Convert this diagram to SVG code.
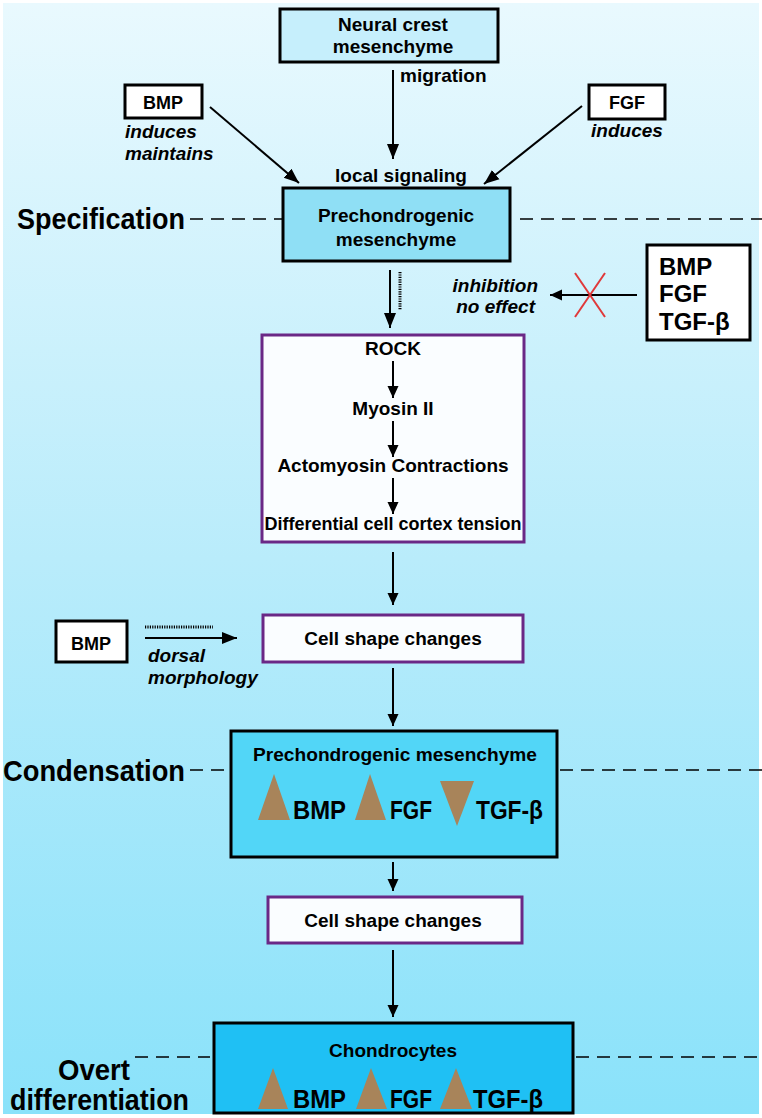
<svg xmlns="http://www.w3.org/2000/svg" width="762" height="1118" viewBox="0 0 762 1118">
<defs>
<linearGradient id="bg" x1="0" y1="0" x2="0" y2="1">
<stop offset="0" stop-color="#e9f9fe"/>
<stop offset="0.5" stop-color="#b9ecfb"/>
<stop offset="1" stop-color="#8ae2fa"/>
</linearGradient>
<marker id="ah" markerUnits="userSpaceOnUse" markerWidth="16" markerHeight="14" refX="15" refY="7" orient="auto">
<path d="M0,1 L15,7 L0,13 z" fill="#000"/>
</marker>
<marker id="ahs" markerUnits="userSpaceOnUse" markerWidth="13" markerHeight="12" refX="12" refY="6" orient="auto">
<path d="M0,0.5 L12,6 L0,11.5 z" fill="#000"/>
</marker>
</defs>
<style>
text{font-family:"Liberation Sans",Arial,sans-serif;font-weight:bold;fill:#000}
.t{font-size:19px;text-anchor:middle}
.it{font-size:19px;font-style:italic}
.big{font-size:24px}
.cond{font-size:30px}
.sub{font-size:26px}
.box{stroke:#000;stroke-width:3}
.pbox{stroke:#6a2886;stroke-width:3;fill:#fafdff}
.wbox{fill:#fff;stroke:#000;stroke-width:3}
.dash{stroke:#000;stroke-width:1.6;stroke-dasharray:13 8;fill:none}
.ln{stroke:#000;stroke-width:2;fill:none}
.hatch{stroke:#000;stroke-width:3;stroke-dasharray:1.2 1.2;fill:none}
.tri{fill:#a8845a}
</style>
<rect x="0" y="0" width="762" height="1118" fill="#fff"/>
<rect x="3" y="3" width="756" height="1111" fill="url(#bg)"/>

<g id="labels">
<text class="cond" x="17" y="229" textLength="168" lengthAdjust="spacingAndGlyphs">Specification</text>
<text class="cond" x="3" y="781" textLength="182" lengthAdjust="spacingAndGlyphs">Condensation</text>
<text class="cond" x="58" y="1080" textLength="72" lengthAdjust="spacingAndGlyphs">Overt</text>
<text class="cond" x="10" y="1110" textLength="179" lengthAdjust="spacingAndGlyphs">differentiation</text>
</g>

<g id="connectors">
<line class="dash" x1="190" y1="219" x2="283" y2="219"/>
<line class="dash" x1="520" y1="219" x2="762" y2="219"/>
<line class="dash" x1="190" y1="770" x2="231" y2="770"/>
<line class="dash" x1="560" y1="770" x2="762" y2="770"/>
<line class="dash" x1="135" y1="1057" x2="210" y2="1057"/>
<line class="dash" x1="576" y1="1057" x2="762" y2="1057"/>
<line class="ln" x1="393" y1="70" x2="393" y2="159" marker-end="url(#ah)"/>
<line class="ln" x1="210" y1="107" x2="299" y2="183" marker-end="url(#ah)"/>
<line class="ln" x1="582" y1="106" x2="484" y2="184" marker-end="url(#ah)"/>
<line class="ln" x1="390" y1="270" x2="390" y2="328" marker-end="url(#ah)"/>
<line class="hatch" x1="400" y1="272" x2="400" y2="310"/>
<line class="ln" x1="637" y1="295" x2="550" y2="295" marker-end="url(#ahs)"/>
<line x1="575" y1="273" x2="605" y2="317" stroke="#e0393a" stroke-width="2"/>
<line x1="605" y1="273" x2="575" y2="317" stroke="#e0393a" stroke-width="2"/>
<line class="ln" x1="393" y1="552" x2="393" y2="605" marker-end="url(#ahs)"/>
<line class="ln" x1="145" y1="638" x2="237" y2="638" marker-end="url(#ah)"/>
<line class="hatch" x1="145" y1="627" x2="213" y2="627"/>
<line class="ln" x1="393" y1="668" x2="393" y2="726" marker-end="url(#ahs)"/>
<line class="ln" x1="393" y1="862" x2="393" y2="891" marker-end="url(#ahs)"/>
<line class="ln" x1="393" y1="950" x2="393" y2="1017" marker-end="url(#ahs)"/>
</g>

<g id="neural-crest">
<rect class="box" x="280" y="9" width="218" height="53" fill="#c6effc" stroke-width="2.5"/>
<text class="t" x="393" y="31">Neural crest</text>
<text class="t" x="393" y="53">mesenchyme</text>
</g>
<text id="migration" class="t" x="400" y="82" style="text-anchor:start">migration</text>
<text id="local-signaling" class="t" x="401" y="182">local signaling</text>

<g id="bmp-top">
<rect class="wbox" x="125" y="85" width="77" height="33"/>
<text class="t" x="163" y="109" style="font-size:18px">BMP</text>
<text class="it" x="125" y="138">induces</text>
<text class="it" x="125" y="160">maintains</text>
</g>

<g id="fgf-top">
<rect class="wbox" x="589" y="85" width="76" height="34"/>
<text class="t" x="627" y="109" style="font-size:18px">FGF</text>
<text class="it" x="627" y="137" style="text-anchor:middle">induces</text>
</g>

<g id="spec-box">
<rect class="box" x="283" y="188" width="227" height="73" fill="#8fdff5"/>
<text class="t" x="396" y="222">Prechondrogenic</text>
<text class="t" x="396" y="246">mesenchyme</text>
</g>

<g id="inhibition">
<text class="it" x="538" y="292" style="text-anchor:end">inhibition</text>
<text class="it" x="535" y="313" style="text-anchor:end">no effect</text>
</g>

<g id="factors-right">
<rect class="wbox" x="647" y="245" width="103" height="95"/>
<text class="big" x="659" y="275">BMP</text>
<text class="big" x="659" y="302">FGF</text>
<text class="big" x="659" y="330">TGF-β</text>
</g>

<g id="rock-box">
<rect class="pbox" x="262" y="335" width="262" height="207"/>
<text class="t" x="393" y="355">ROCK</text>
<line class="ln" x1="393" y1="361" x2="393" y2="398" marker-end="url(#ahs)"/>
<text class="t" x="393" y="415">Myosin II</text>
<line class="ln" x1="393" y1="421" x2="393" y2="457" marker-end="url(#ahs)"/>
<text class="t" x="393" y="472">Actomyosin Contractions</text>
<line class="ln" x1="393" y1="478" x2="393" y2="514" marker-end="url(#ahs)"/>
<text class="t" x="393" y="530" style="font-size:18px">Differential cell cortex tension</text>
</g>

<g id="cell-shape-1">
<rect class="pbox" x="263" y="615" width="260" height="47" fill="#fff"/>
<text class="t" x="393" y="645">Cell shape changes</text>
</g>

<g id="bmp-left">
<rect class="wbox" x="56" y="621" width="71" height="41"/>
<text class="t" x="91" y="650" style="font-size:18px">BMP</text>
<text class="it" x="148" y="662">dorsal</text>
<text class="it" x="148" y="684">morphology</text>
</g>

<g id="condensation-box">
<rect class="box" x="231" y="731" width="326" height="126" fill="#52d6f7"/>
<text x="395" y="761" style="font-size:19px;text-anchor:middle" textLength="284" lengthAdjust="spacingAndGlyphs">Prechondrogenic mesenchyme</text>
<polygon class="tri" points="258,820 274,774 290,820"/>
<polygon class="tri" points="355,820 370,774 386,820"/>
<polygon class="tri" points="440,781 474,781 457,826"/>
<text class="sub" x="293" y="819" textLength="53" lengthAdjust="spacingAndGlyphs">BMP</text>
<text class="sub" x="390" y="819" textLength="42" lengthAdjust="spacingAndGlyphs">FGF</text>
<text class="sub" x="476" y="819" textLength="67" lengthAdjust="spacingAndGlyphs">TGF-β</text>
</g>

<g id="cell-shape-2">
<rect class="pbox" x="268" y="897" width="254" height="46" fill="#fff"/>
<text class="t" x="393" y="927">Cell shape changes</text>
</g>

<g id="chondrocytes-box">
<rect class="box" x="214" y="1023" width="359" height="90" fill="#1fc0f4"/>
<text x="393" y="1057" style="font-size:19px;text-anchor:middle" textLength="128" lengthAdjust="spacingAndGlyphs">Chondrocytes</text>
<polygon class="tri" points="258,1109 273,1068 288,1109"/>
<polygon class="tri" points="356,1109 371,1068 387,1109"/>
<polygon class="tri" points="440,1109 456,1068 472,1109"/>
<text class="sub" x="293" y="1108" textLength="53" lengthAdjust="spacingAndGlyphs">BMP</text>
<text class="sub" x="390" y="1108" textLength="42" lengthAdjust="spacingAndGlyphs">FGF</text>
<text class="sub" x="473" y="1108" textLength="70" lengthAdjust="spacingAndGlyphs">TGF-β</text>
</g>
</svg>
